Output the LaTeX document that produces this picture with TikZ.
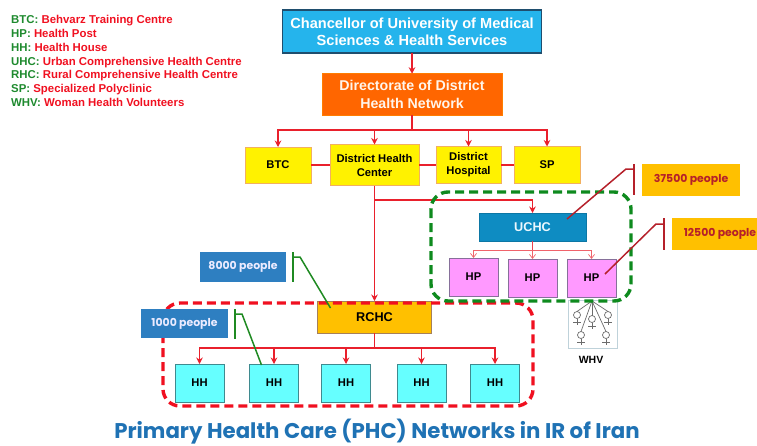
\documentclass[tikz,border=0pt]{standalone}
\usepackage{fontspec}
\setmainfont{Liberation Sans}
\newfontfamily\popp{Poppins}
\usetikzlibrary{arrows.meta,calc}
\definecolor{linkred}{HTML}{E9202C}
\definecolor{dashred}{HTML}{F01020}
\definecolor{dashgreen}{HTML}{0E8A1E}
\definecolor{legendgreen}{HTML}{1E8A2E}
\definecolor{tagred}{HTML}{B5202A}
\definecolor{taggreen}{HTML}{1F8A22}
\definecolor{titleblue}{HTML}{1F72B4}
\definecolor{HPfill}{HTML}{FF99FF}
\definecolor{HPline}{HTML}{86709A}
\definecolor{HHfill}{HTML}{66FFFF}
\definecolor{HHline}{HTML}{3F8A8F}
\definecolor{tagblue}{HTML}{2E7FC1}
\definecolor{tagorange}{HTML}{FFC000}
\definecolor{chanfill}{HTML}{25B4EC}
\definecolor{chanline}{HTML}{1F4E6E}
\definecolor{dirfill}{HTML}{FF6600}
\definecolor{uchcfill}{HTML}{0E8CC2}
\definecolor{yellowline}{HTML}{F2B060}
\tikzset{
  box/.style={draw,line width=0.9pt,inner sep=0pt,outer sep=0pt,align=center,font=\bfseries\fontsize{11.2}{14}\selectfont,text=black},
  topbox/.style={box,fill=yellow,draw=yellowline},
  hpbox/.style={box,fill=HPfill,draw=HPline},
  hhbox/.style={box,fill=HHfill,draw=HHline},
  tagbox/.style={inner sep=0pt,outer sep=0pt,align=center,font=\popp\bfseries\fontsize{10.9}{12}\selectfont},
  bluetag/.style={tagbox,fill=tagblue,text=white!92!blue},
  orangetag/.style={tagbox,fill=tagorange,text=tagred},
  link/.style={draw=linkred,line width=1.3pt},
  arrowlink/.style={link,-{Stealth[length=6.5pt,width=6.5pt]}},
  thinlink/.style={draw=linkred!70,line width=0.7pt,-{Straight Barb[length=4pt,width=6pt]}},
  callred/.style={draw=tagred,line width=1.5pt},
  callgreen/.style={draw=taggreen,line width=1.5pt},
  zone/.style={line width=3.4pt,rounded corners=17pt,dash pattern=on 9pt off 5pt},
  venus/.style={draw=gray!85!black,line width=0.7pt},
}
\begin{document}
\begin{tikzpicture}[x=1pt,y=-1pt]
\useasboundingbox (0,0) rectangle (757,445);
% legend
\node[anchor=north west,inner sep=0pt,align=left,font=\bfseries\fontsize{11.4}{13.7}\selectfont] (legend) at (11,15.5) {%
\textcolor{legendgreen}{BTC:} \textcolor{dashred}{Behvarz Training Centre}\\
\textcolor{legendgreen}{HP:} \textcolor{dashred}{Health Post}\\
\textcolor{legendgreen}{HH:} \textcolor{dashred}{Health House}\\
\textcolor{legendgreen}{UHC:} \textcolor{dashred}{Urban Comprehensive Health Centre}\\
\textcolor{legendgreen}{RHC:} \textcolor{dashred}{Rural Comprehensive Health Centre}\\
\textcolor{legendgreen}{SP:} \textcolor{dashred}{Specialized Polyclinic}\\
\textcolor{legendgreen}{WHV:} \textcolor{dashred}{Woman Health Volunteers}};
% top of the hierarchy
\node[box,fill=chanfill,draw=chanline,line width=1.8pt,minimum width=259pt,minimum height=43pt,text=white,font=\bfseries\fontsize{14.6}{17.2}\selectfont] (chan) at (412,31.5) {Chancellor of University of Medical\\Sciences \& Health Services};
\node[box,fill=dirfill,draw=dirfill!85!yellow,minimum width=180pt,minimum height=41.5pt,text=white!92!orange,font=\bfseries\fontsize{14.2}{17.2}\selectfont] (dir) at (412,94.5) {Directorate of District\\Health Network};
\node[topbox,minimum width=66pt,minimum height=36pt] (btc) at (278,165) {BTC};
\node[topbox,minimum width=89pt,minimum height=41pt] (dhc) at (374.5,165) {District Health\\Center};
\node[topbox,minimum width=65pt,minimum height=37pt] (dh) at (468.5,165) {District\\Hospital};
\node[topbox,minimum width=66pt,minimum height=37pt] (sp) at (547,165) {SP};
\coordinate (hub) at (412,130);
\draw[arrowlink] (chan.south) -- (dir.north);
\draw[link] (dir.south) -- (hub);
\draw[arrowlink] (hub) -| (btc.north);
\draw[arrowlink] (hub) -| (dhc.north);
\draw[arrowlink] (hub) -| (dh.north);
\draw[arrowlink] (hub) -| (sp.north);
\draw[link] (btc.east) -- (dhc.west);
\draw[link] (dhc.east) -- (dh.west);
\draw[link] (dh.east) -- (sp.west);
% WHV icon
\node[draw=cyan!30!gray!45,line width=0.8pt,fill=white,minimum width=49pt,minimum height=48pt,inner sep=0pt] (whvbox) at (592.5,324) {};
\node[font=\bfseries\fontsize{10.5}{12}\selectfont,inner sep=0pt] (whv) at (591,360) {WHV};
\coordinate (whvtop) at (592,301);
\foreach \cx/\cy in {577/315,592/319,608/315,581/335,606/335}{
  \draw[venus] (whvtop) -- (\cx,\cy-3.5);
  \draw[venus] (\cx,\cy) circle (3.5pt);
  \draw[venus] (\cx,\cy+3.5) -- (\cx,\cy+10);
  \draw[venus] (\cx-4,\cy+7) -- (\cx+4,\cy+7);
}
% urban branch
\node[box,fill=uchcfill,draw=uchcfill!85!black,minimum width=107pt,minimum height=28pt,text=white!92!cyan,font=\bfseries\fontsize{12.7}{14}\selectfont] (uchc) at (532.5,227) {UCHC};
\node[hpbox,minimum width=49pt,minimum height=38pt] (hp1) at (473.5,277) {HP};
\node[hpbox,minimum width=49pt,minimum height=38pt] (hp2) at (532.5,278) {HP};
\node[hpbox,minimum width=49pt,minimum height=38pt] (hp3) at (591.5,278) {HP};
\coordinate (uhub) at (532.5,250);
\draw[draw=linkred!85,line width=0.7pt] (uchc.south) -- (uhub);
\draw[thinlink] (uhub) -| (hp1.north);
\draw[thinlink] (uhub) -- (hp2.north);
\draw[thinlink] (uhub) -| (hp3.north);
% rural branch
\node[box,fill=tagorange,draw=gray!70!orange,minimum width=114pt,minimum height=32pt,font=\bfseries\fontsize{12.7}{14}\selectfont] (rchc) at (374.5,317) {RCHC};
\foreach \n/\cx in {hh1/199.5,hh2/274,hh3/346,hh4/421.5,hh5/495}{
  \node[hhbox,minimum width=49pt,minimum height=38pt] (\n) at (\cx,383) {HH};
}
\coordinate (dhub) at (374.5,200);
\coordinate (rhub) at (374.5,348);
\draw[link] (dhc.south) -- (dhub);
\draw[arrowlink] (dhub) -- (rchc.north);
\draw[arrowlink] (dhub) -| (uchc.north);
\draw[link] (rchc.south) -- (rhub);
\foreach \n in {hh1,hh2,hh3,hh4,hh5}{
  \draw[arrowlink] (rhub) -| (\n.north);
}
% dashed zones
\draw[zone,draw=dashred] (163,303) rectangle (533,406);
\draw[zone,draw=dashgreen] (431,192) rectangle (631,301);
% people tags
\node[bluetag,minimum width=86pt,minimum height=30pt] (t8) at (243,267) {8000 people};
\node[bluetag,minimum width=87pt,minimum height=29pt] (t1) at (184.5,323.5) {1000 people};
\node[orangetag,minimum width=98pt,minimum height=32pt] (t37) at (691,180) {37500 people};
\node[orangetag,minimum width=96pt,minimum height=32pt] (t12) at (720,234) {12500 people};
% callouts
\coordinate (c37a) at (634,164); \coordinate (c37b) at (634,195); \coordinate (c37c) at (634,169); \coordinate (c37d) at (626,169);
\draw[callred] (c37a) -- (c37b);
\draw[callred] (c37c) -- (c37d) -- ($(uchc.east)+(-19,-8)$);
\coordinate (c12a) at (664,218); \coordinate (c12b) at (664,250); \coordinate (c12c) at (664,224); \coordinate (c12d) at (656,224);
\draw[callred] (c12a) -- (c12b);
\draw[callred] (c12c) -- (c12d) -- ($(hp3.center)+(13.5,-4)$);
\coordinate (c8a) at (293,252); \coordinate (c8b) at (293,282); \coordinate (c8c) at (293,257); \coordinate (c8d) at (300,257);
\draw[callgreen] (c8a) -- (c8b);
\draw[callgreen] (c8c) -- (c8d) -- ($(rchc.north west)+(13,7)$);
\coordinate (c1a) at (235,309); \coordinate (c1b) at (235,339); \coordinate (c1c) at (235,314); \coordinate (c1d) at (242,314);
\draw[callgreen] (c1a) -- (c1b);
\draw[callgreen] (c1c) -- (c1d) -- ($(hh2.north west)+(12,1)$);
% title
\node[inner sep=0pt,text=titleblue,font=\popp\bfseries\fontsize{21.3}{24}\selectfont] (title) at (377,431.5) {Primary Health Care (PHC) Networks in IR of Iran};
\end{tikzpicture}
\end{document}
